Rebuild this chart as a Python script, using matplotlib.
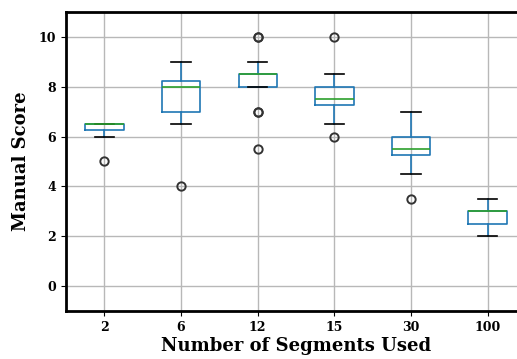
import matplotlib.pyplot as plt

segments = ['2', '6', '12', '15', '30', '100']
q1 = [6.25, 7.0, 8.0, 7.25, 5.25, 2.5]
med = [6.5, 8.0, 8.5, 7.5, 5.5, 3.0]
q3 = [6.5, 8.25, 8.5, 8.0, 6.0, 3.0]
whislo = [6.0, 6.5, 8.0, 6.5, 4.5, 2.0]
whishi = [6.5, 9.0, 9.0, 8.5, 7.0, 3.5]
fliers = [[5.0], [4.0], [10.0, 10.0, 7.0, 7.0, 5.5], [10.0, 6.0], [3.5], []]

stats = []
for i in range(len(segments)):
    stats.append(dict(label=segments[i], q1=q1[i], med=med[i], q3=q3[i],
                      whislo=whislo[i], whishi=whishi[i], fliers=fliers[i]))

fig = plt.figure(figsize=(5.17, 3.59), dpi=100)
ax = fig.add_axes([0.1277, 0.1337, 0.8897, 0.8329])

ax.bxp(stats, widths=0.5,
       boxprops=dict(color='#1f77b4', linewidth=1.2),
       whiskerprops=dict(color='#1f77b4', linewidth=1.2),
       capprops=dict(color='k', linewidth=1.2),
       medianprops=dict(color='#2ca02c', linewidth=1.2),
       flierprops=dict(marker='o', markerfacecolor='none', markeredgecolor='#333333',
                       markersize=6, markeredgewidth=1.4))

ax.set_ylim(-1, 11)
ax.set_xlim(0.5, 6.5)
ax.grid(True, color='#b8b8b8', linewidth=1.0)
ax.set_axisbelow(True)

for s in ax.spines.values():
    s.set_linewidth(2)
    s.set_color('black')

for lab in ax.get_xticklabels() + ax.get_yticklabels():
    lab.set_fontfamily('DejaVu Serif')
    lab.set_fontweight('bold')
    lab.set_fontsize(9)

ax.set_xlabel('Number of Segments Used', fontfamily='DejaVu Serif', fontweight='bold', fontsize=13, labelpad=2)
ax.set_ylabel('Manual Score', fontfamily='DejaVu Serif', fontweight='bold', fontsize=13, labelpad=6)

fig.savefig('out.png')
